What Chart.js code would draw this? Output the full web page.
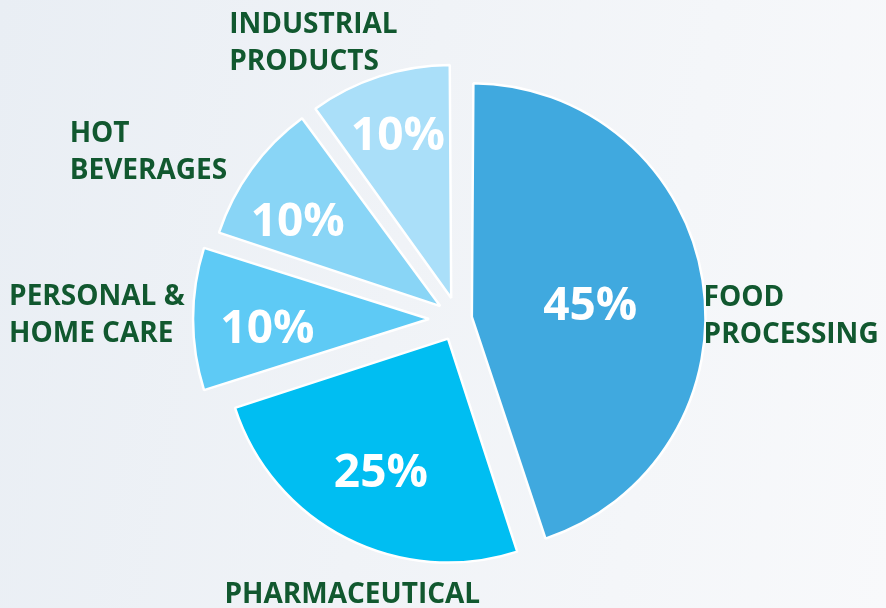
<!DOCTYPE html>
<html>
<head>
<meta charset="utf-8">
<script src="https://cdn.jsdelivr.net/npm/chart.js@4/dist/chart.umd.min.js"></script>
<style>
  html, body { margin: 0; padding: 0; }
  body {
    width: 886px; height: 608px; overflow: hidden;
    background: linear-gradient(100deg, #e9eef4 0%, #f0f3f7 45%, #f8f9fb 100%);
  }
  #wrap { position: relative; width: 886px; height: 608px; }
</style>
</head>
<body>
<div id="wrap"><canvas id="c" width="886" height="608"></canvas></div>
<script>
// ---- data ----
const categories = ["FOOD\nPROCESSING", "PHARMACEUTICAL", "PERSONAL &\nHOME CARE", "HOT\nBEVERAGES", "INDUSTRIAL\nPRODUCTS"];
const shares = [45, 25, 10, 10, 10];
const sliceColors = ["#40a9df", "#00bef2", "#5ecaf5", "#89d5f6", "#aadff9"];
const sliceOffsets = [56, 88, 116, 88, 88];

// label placement relative to each slice's outer point (style, not data)
const labelPlacement = [
  { dx: 1,    dy: 26,  align: "left" },
  { dx: 6,    dy: 65,  align: "center" },
  { dx: -184, dy: -14, align: "left" },
  { dx: -182, dy: -27, align: "left" },
  { dx: -150, dy: -43, align: "left" }
];
// percentage label placement: radial boost (fraction of R) and angular shift (fraction of slice)
const pctShift = [0.044, 0.06, 0.03, 0.06, 0.085];
const pctTurn = [0.017, 0, -0.077, -0.13, 0];

const labelsPlugin = {
  id: "sliceLabels",
  afterDatasetsDraw(chart) {
    const ctx = chart.ctx;
    const meta = chart.getDatasetMeta(0);
    meta.data.forEach((el, i) => {
      const p = el.getProps(["x", "y", "startAngle", "endAngle", "outerRadius"], true);
      const off = (el.options.offset || 0) / 4;
      const h = (p.startAngle + p.endAngle) / 2;
      const circ = p.endAngle - p.startAngle;
      const fix = 1 - Math.sin(Math.min(Math.PI, circ));
      const ax = p.x + Math.cos(h) * off;
      const ay = p.y + Math.sin(h) * off;
      const R = p.outerRadius + off * fix;
      const half = circ / 2;
      const d = (2 * R * Math.sin(half)) / (3 * half) + pctShift[i] * R;
      const a = h + pctTurn[i] * circ;
      ctx.save();
      // percentage
      const fs = 46;
      ctx.font = "700 " + fs + "px 'Open Sans'";
      ctx.fillStyle = "#ffffff";
      ctx.textAlign = "center";
      ctx.textBaseline = "alphabetic";
      ctx.fillText(shares[i] + "%", ax + Math.cos(a) * d, ay + Math.sin(a) * d + 0.36 * fs);
      // category label
      const lp = labelPlacement[i];
      const ox = ax + Math.cos(h) * R + lp.dx;
      const oy = ay + Math.sin(h) * R + lp.dy;
      ctx.font = "700 28px 'Open Sans'";
      ctx.fillStyle = "#11582f";
      ctx.textAlign = lp.align;
      categories[i].split("\n").forEach((line, k) => {
        ctx.fillText(line, ox, oy + k * 37);
      });
      ctx.restore();
    });
  }
};

new Chart(document.getElementById("c"), {
  type: "pie",
  data: {
    labels: categories.map(c => c.replace("\n", " ")),
    datasets: [{
      data: shares,
      backgroundColor: sliceColors,
      borderColor: "#ffffff",
      borderWidth: 2.5,
      offset: sliceOffsets
    }]
  },
  options: {
    responsive: false,
    animation: false,
    radius: 224,
    layout: { padding: { left: 30, top: 30, right: 0, bottom: 0 } },
    plugins: { legend: { display: false }, tooltip: { enabled: false } }
  },
  plugins: [labelsPlugin]
});
</script>
</body>
</html>
